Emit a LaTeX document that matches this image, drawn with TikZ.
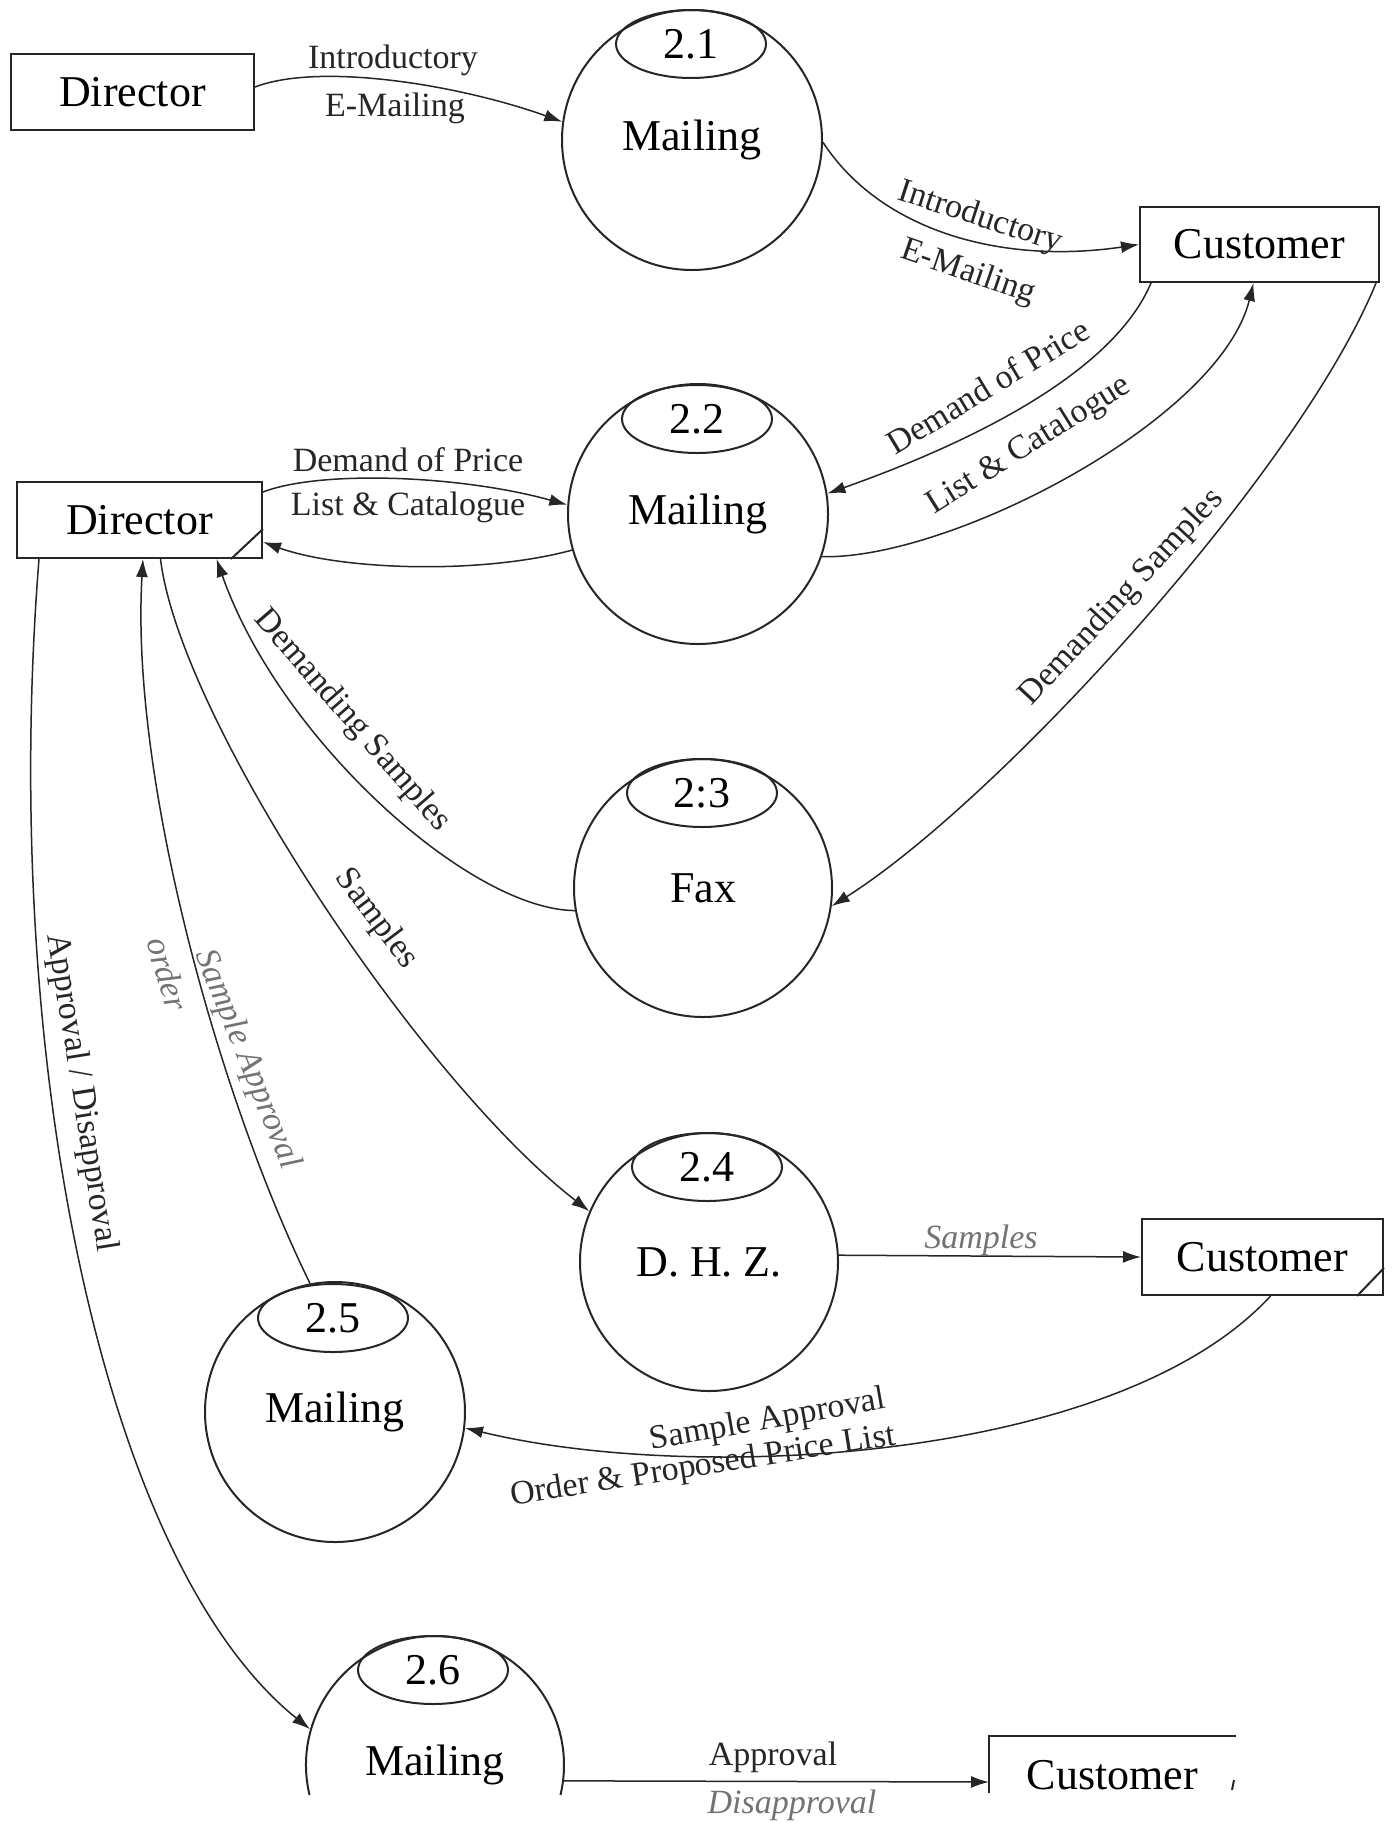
\documentclass[tikz,border=0pt]{standalone}
\usepackage{fontspec}
\setmainfont{Liberation Serif}
\usetikzlibrary{arrows.meta,shapes.geometric,calc}
\newcommand\dfdBig{\fontsize{44}{48}\selectfont}
\newcommand\dfdLab{\fontsize{34}{38}\selectfont}
\newcommand\dfdHand{\fontsize{34}{38}\selectfont\itshape}
\tikzset{
  ln/.style={line width=1.5pt, draw=black!85},
  arr/.style={ln, -{Latex[length=18pt,width=12pt]}},
  shapeline/.style={line width=2pt, draw=black!85},
  proc/.style={circle, draw=black!85, line width=2pt, minimum size=260pt, inner sep=0pt, font=\dfdBig},
  numell/.style={ellipse, draw=black!85, line width=2pt, minimum width=150pt, minimum height=68pt, inner sep=0pt, font=\dfdBig},
  ent/.style={rectangle, draw=black!85, line width=2pt, minimum width=243pt, minimum height=76pt, inner sep=0pt, font=\dfdBig},
  lab/.style={font=\dfdLab, inner sep=0pt, text=black!85},
  hand/.style={font=\dfdHand, inner sep=0pt, text=black!55},
}
\begin{document}
\begin{tikzpicture}[x=1pt,y=1pt]
\path[use as bounding box, fill=white] (0,0) rectangle (1394,-1823);

% external entities
\node[ent] (d1) at (132.5,-92) {Director};
\node[ent, minimum width=245pt] (d2) at (139.5,-520) {Director};
\node[ent, minimum width=239pt, minimum height=75pt] (cu1) at (1259.5,-244.5) {Customer};
\node[ent, minimum width=241pt] (cu2) at (1262.5,-1257) {Customer};
\node[ent, draw=none, minimum width=245pt] (cu3) at (1112.5,-1775) {Customer};
\draw[shapeline] (cu3.west |- 0,-1793) -- (cu3.north west) -- (cu3.north east);
\draw[shapeline] ($(cu3.north east)+(-2,-44)$) -- ($(cu3.north east)+(-4,-54)$);
\draw[shapeline] ($(d2.south east)+(-32,0)$) -- ($(d2.south east)+(0,30)$);
\draw[shapeline] ($(cu2.south east)+(-27,0)$) -- ($(cu2.south east)+(0,28)$);

% processes
\node[proc] (p1) at (692,-140) {Mailing};
\node[numell] (e1) at (691,-44) {2.1};
\node[proc] (p2) at (698,-514) {Mailing};
\node[numell] (e2) at (697,-419) {2.2};
\node[proc, minimum size=258pt] (p3) at (703,-888) {Fax};
\node[numell] (e3) at (702,-793) {2:3};
\node[proc, minimum size=258pt] (p4) at (709,-1262) {D. H. Z.};
\node[numell] (e4) at (707,-1167) {2.4};
\node[proc] (p5) at (335,-1412) {Mailing};
\node[numell] (e5) at (333,-1318) {2.5};
\node[proc, draw=none, minimum size=258pt] (p6) at (435,-1765) {Mailing};
\draw[shapeline] ($(p6.center)+(193.4:129pt)$) arc[start angle=193.4, end angle=-13.4, radius=129pt];
\node[numell] (e6) at (433,-1670) {2.6};

% flows
\draw[arr] ($(d1.east)+(0,5)$) .. controls (320,-62) and (460,-85) .. (p1.172.5);
\draw[arr] (p1.-1) .. controls (880,-230) and (1000,-265) .. (cu1.west);
\draw[arr] ($(d2.east)+(0,28)$) .. controls (320,-470) and (460,-475) .. (p2.176);
\draw[arr] (p2.196) .. controls (480,-575) and (340,-570) .. ($(d2.east)+(0,-22)$);
\draw[arr] ($(cu1.south west)+(12,0)$) .. controls (1110,-380) and (950,-450) .. (p2.9);
\draw[arr] (p2.-19) .. controls (950,-560) and (1220,-420) .. ($(cu1.south)+(-6,0)$);
\draw[arr] ($(cu1.south east)+(-4,0)$) .. controls (1300,-470) and (1000,-800) .. (p3.-8);
\draw[arr] (p3.190) .. controls (470,-910) and (280,-740) .. ($(d2.south)+(77,0)$);
\draw[arr] ($(d2.south)+(21,0)$) .. controls (180,-720) and (420,-1080) .. (p4.157.5);
\draw[arr] (p4.3) -- (cu2.west);
\draw[arr] ($(cu2.south)+(8,0)$) .. controls (1120,-1460) and (700,-1485) .. (p5.-7.7);
\draw[arr] (p5.101.8) .. controls (220,-1100) and (130,-780) .. ($(d2.south)+(3.5,0)$);
\draw[arr] ($(d2.south west)+(23,0)$) .. controls (0,-1050) and (100,-1560) .. (p6.164.3);
\draw[arr] (p6.-7.5) -- ($(cu3.west)+(0,-7)$);

% labels
\node[lab] (l1) at (393,-60) {Introductory};
\node[lab] (l2) at (395,-108) {E-Mailing};
\node[lab, rotate=-18] (l3) at (980,-218) {Introductory};
\node[lab, rotate=-19] (l4) at (968,-273) {E-Mailing};
\node[lab] (l5) at (408,-460) {Demand of Price};
\node[lab] (l6) at (408,-507) {List \& Catalogue};
\node[lab, rotate=31] (l7) at (988,-386) {Demand of Price};
\node[lab, rotate=32] (l8) at (1029,-446) {List \& Catalogue};
\node[lab, rotate=47] (l9) at (1122,-598) {Demanding Samples};
\node[lab, rotate=-49] (l10) at (352,-721) {Demanding Samples};
\node[lab, rotate=-53] (l11) at (376,-919) {Samples};
\node[lab, rotate=-81] (l12) at (81,-1093) {Approval / Disapproval};
\node[hand, rotate=-68] (l13) at (247,-1060) {Sample Approval};
\node[hand, rotate=-73] (l14) at (168,-974) {order};
\node[hand] (l15) at (981,-1240) {Samples};
\node[lab, rotate=10] (l16) at (768,-1421) {Sample Approval};
\node[lab, rotate=9] (l17) at (703,-1467) {Order \& Proposed Price List};
\node[lab] (l18) at (773,-1757) {Approval};
\node[hand] (l19) at (792,-1805) {Disapproval};
\end{tikzpicture}
\end{document}
